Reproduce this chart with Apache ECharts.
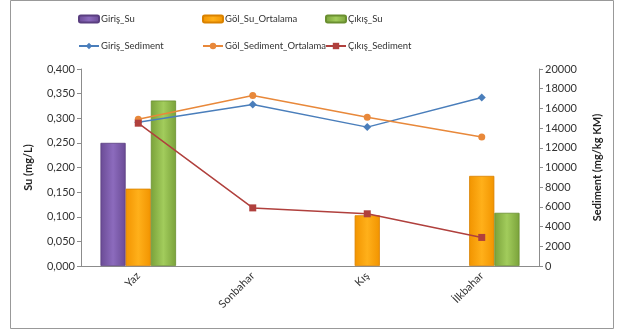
<!DOCTYPE html>
<html><head><meta charset="utf-8">
<script src="https://cdn.jsdelivr.net/npm/echarts@6/dist/echarts.min.js"></script>
<style>html,body{margin:0;padding:0;background:#fff}#c{width:624px;height:334px}</style>
</head><body><div id="c"></div>
<script>
const categories = ['Yaz', 'Sonbahar', 'Kış', 'İlkbahar'];
const girisSu = [0.250, null, null, null];
const golSuOrtalama = [0.157, null, 0.103, 0.183];
const cikisSu = [0.336, null, null, 0.108];
const girisSediment = [14600, 16400, 14100, 17100];
const golSedimentOrtalama = [14900, 17300, 15100, 13100];
const cikisSediment = [14500, 5900, 5300, 2900];
const leftTicks = [0, 0.05, 0.1, 0.15, 0.2, 0.25, 0.3, 0.35, 0.4];
const rightTicks = [0, 2000, 4000, 6000, 8000, 10000, 12000, 14000, 16000, 18000, 20000];

const FONT = 'Lato';
function grad(c1, c2) {
  return new echarts.graphic.LinearGradient(0, 0, 1, 0, [
    {offset: 0, color: c1}, {offset: 0.5, color: c2}, {offset: 1, color: c1}
  ]);
}
const chart = echarts.init(document.getElementById('c'), null, {renderer: 'canvas'});
const legendText = {fontFamily: FONT, fontSize: 9.5, color: '#333', padding: [0, 0, 0, -3]};
function lg(name, left, top, isLine) {
  return {data: [name], left: left, top: top, itemWidth: 20, itemHeight: isLine ? 8 : 7,
    itemGap: 0, textStyle: legendText, selectedMode: false, padding: 0};
}
chart.setOption({
  animation: false,
  textStyle: {fontFamily: FONT},
  graphic: [{type: 'rect', shape: {x: 10.5, y: 0.5, width: 603, height: 328},
    style: {fill: 'none', stroke: '#999', lineWidth: 1}, silent: true}],
  legend: [
    lg('Giriş_Su', 78, 14, false),
    lg('Göl_Su_Ortalama', 202, 14, false),
    lg('Çıkış_Su', 325, 14, false),
    lg('Giriş_Sediment', 78, 41, true),
    lg('Göl_Sediment_Ortalama', 202, 41, true),
    lg('Çıkış_Sediment', 325, 41, true)
  ],
  grid: {left: 81, right: 85, top: 69, bottom: 68, containLabel: false},
  xAxis: {
    type: 'category', data: categories,
    axisLine: {lineStyle: {color: '#8c8c8c'}},
    axisTick: {alignWithLabel: false, length: 5, lineStyle: {color: '#8c8c8c'}},
    axisLabel: {rotate: 45, fontFamily: FONT, fontSize: 11, color: '#333', margin: 8}
  },
  yAxis: [{
    type: 'value', min: 0, max: 0.4, interval: 0.05,
    name: 'Su (mg/L)', nameLocation: 'middle', nameGap: 47, nameRotate: 90,
    nameTextStyle: {fontFamily: FONT, fontSize: 11, fontWeight: 'bold', color: '#222'},
    axisLine: {show: true, lineStyle: {color: '#8c8c8c'}},
    axisTick: {show: true, length: 4, lineStyle: {color: '#8c8c8c'}},
    splitLine: {show: false},
    axisLabel: {fontFamily: FONT, fontSize: 11, color: '#333', margin: 6,
      formatter: v => v.toFixed(3).replace('.', ',')}
  }, {
    type: 'value', min: 0, max: 20000, interval: 2000, position: 'right',
    name: 'Sediment (mg/kg KM)', nameLocation: 'middle', nameGap: 53, nameRotate: 90,
    nameTextStyle: {fontFamily: FONT, fontSize: 11, fontWeight: 'bold', color: '#222'},
    axisLine: {show: true, lineStyle: {color: '#8c8c8c'}},
    axisTick: {show: true, length: 4, lineStyle: {color: '#8c8c8c'}},
    splitLine: {show: false},
    axisLabel: {fontFamily: FONT, fontSize: 11, color: '#333', margin: 6,
      formatter: v => String(v)}
  }],
  series: [
    {name: 'Giriş_Su', type: 'bar', data: girisSu, barGap: '0%', barCategoryGap: '34%',
      itemStyle: {color: grad('#6a4b95', '#8c6bbd'), borderColor: '#5a3f80', borderWidth: 0.8}},
    {name: 'Göl_Su_Ortalama', type: 'bar', data: golSuOrtalama,
      itemStyle: {color: grad('#f29400', '#ffb01a'), borderColor: '#d98200', borderWidth: 0.8}},
    {name: 'Çıkış_Su', type: 'bar', data: cikisSu,
      itemStyle: {color: grad('#7aa23a', '#a2cc5c'), borderColor: '#6a8f30', borderWidth: 0.8}},
    {name: 'Giriş_Sediment', type: 'line', yAxisIndex: 1, data: girisSediment,
      symbol: 'diamond', symbolSize: 8, lineStyle: {color: '#4a7ebb', width: 1.5},
      itemStyle: {color: '#4a7ebb'}},
    {name: 'Göl_Sediment_Ortalama', type: 'line', yAxisIndex: 1, data: golSedimentOrtalama,
      symbol: 'circle', symbolSize: 7, lineStyle: {color: '#e8883a', width: 1.5},
      itemStyle: {color: '#e8883a'}},
    {name: 'Çıkış_Sediment', type: 'line', yAxisIndex: 1, data: cikisSediment,
      symbol: 'rect', symbolSize: 7, lineStyle: {color: '#b0403d', width: 1.5},
      itemStyle: {color: '#b0403d'}}
  ]
});
</script></body></html>
